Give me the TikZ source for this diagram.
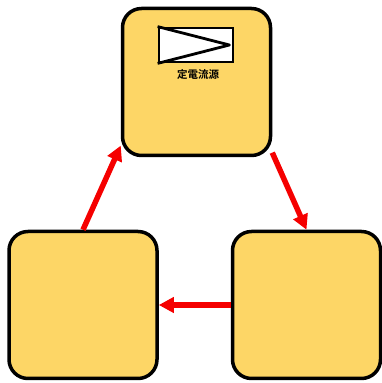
\documentclass[tikz,border=0pt]{standalone}
\usepackage{fontspec}
\usepackage{tikz}
\usetikzlibrary{arrows.meta}
\newfontfamily\cjkfont{Noto Sans CJK JP}[BoldFont={Noto Sans CJK JP Bold}]
\definecolor{boxyellow}{RGB}{253,214,102}
\definecolor{arrowred}{RGB}{245,0,0}

\begin{document}
\begin{tikzpicture}[x=1pt, y=1pt,
    cellbox/.style={rectangle, rounded corners=19pt, draw=black, line width=3.5pt, fill=boxyellow, minimum width=148pt, minimum height=147pt},
    flow/.style={draw=arrowred, line width=5.5pt, -{Triangle[length=15pt,width=15pt]}},
    srcbox/.style={rectangle, draw=black, line width=2.8pt, fill=white, minimum width=74pt, minimum height=34pt}]
    \useasboundingbox (0,0) rectangle (382,383);
    % Draw the three boxes
    \node[cellbox] (top) at (196.5,301) {};
    \node[cellbox] (left) at (83,78) {};
    \node[cellbox] (right) at (306.5,78) {};
    % Current source symbol
    \node[srcbox] (src) at (196,338) {};
    \draw[line width=2.8pt, line join=round] (src.north west) -- ([xshift=-5pt]src.east) -- (src.south west);
    \node[font=\cjkfont\bfseries\fontsize{10.5}{12}\selectfont] (srclabel) at (198,308) {定電流源};
    % Draw the arrows
    \draw[flow] (left.north) -- (top.220);
    \draw[flow] (top.317) -- (right.north);
    \draw[flow] (right.west) -- (left.east);
\end{tikzpicture}
\end{document}
